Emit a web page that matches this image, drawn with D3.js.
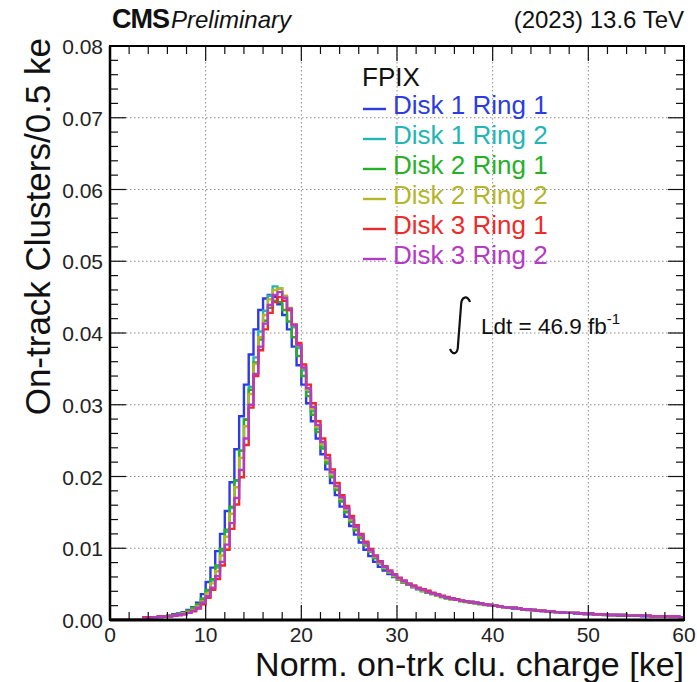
<!DOCTYPE html>
<html>
<head>
<meta charset="utf-8">
<script src="https://cdn.jsdelivr.net/npm/d3@7/dist/d3.min.js"></script>
<style>
body { margin: 0; background: #fff; }
svg { font-family: "Liberation Sans", Arial, sans-serif; }
</style>
</head>
<body>
<svg width="697" height="682"></svg>
<script>
// DATA -------------------------------------------------
var binWidth = 0.5;
var xTicks = [0, 10, 20, 30, 40, 50, 60];
var yTicks = [0, 0.01, 0.02, 0.03, 0.04, 0.05, 0.06, 0.07, 0.08];
var seriesNames = ["Disk 1 Ring 1", "Disk 1 Ring 2", "Disk 2 Ring 1", "Disk 2 Ring 2", "Disk 3 Ring 1", "Disk 3 Ring 2"];
var seriesColors = ["#2b3be6", "#22b5b5", "#27b027", "#b5b52a", "#ee2a2a", "#b53ac4"];

var disk1ring1 = [
  0,0,0,0,0,0,0,0.0003,0.0004,0.0004,
  0.0005,0.0005,0.0006,0.0008,0.0009,0.0011,0.0014,0.0018,0.0024,0.0036,
  0.0053,0.0073,0.0096,0.0120,0.0152,0.0192,0.0238,0.0284,0.0328,0.0370,
  0.0405,0.0432,0.0448,0.0453,0.0450,0.0440,0.0425,0.0405,0.0381,0.0355,
  0.0328,0.0302,0.0277,0.0253,0.0231,0.0210,0.0191,0.0174,0.0158,0.0144,
  0.0131,0.0119,0.0108,0.0098,0.0089,0.0081,0.0074,0.0069,0.0064,0.0060,
  0.0056,0.0052,0.0049,0.0046,0.0043,0.0041,0.0039,0.0037,0.0035,0.0033,
  0.0031,0.0030,0.0028,0.0027,0.0026,0.0025,0.0024,0.0023,0.0022,0.0021,
  0.0020,0.0019,0.0018,0.0017,0.0016,0.0016,0.0015,0.0014,0.0014,0.0013,
  0.0012,0.0012,0.0011,0.0011,0.0010,0.0010,0.0010,0.0009,0.0009,0.0008,
  0.0008,0.0008,0.0008,0.0007,0.0007,0.0007,0.0006,0.0006,0.0006,0.0006,
  0.0006,0.0005,0.0005,0.0005,0.0005,0.0005,0.0005,0.0004,0.0004,0.0004
];
var disk1ring2 = [
  0,0,0,0,0,0,0,0.0003,0.0003,0.0004,
  0.0004,0.0005,0.0005,0.0006,0.0008,0.0009,0.0012,0.0015,0.0020,0.0028,
  0.0040,0.0055,0.0073,0.0096,0.0123,0.0156,0.0194,0.0236,0.0280,0.0325,
  0.0366,0.0402,0.0431,0.0452,0.0465,0.0462,0.0450,0.0432,0.0408,0.0379,
  0.0348,0.0318,0.0291,0.0266,0.0242,0.0220,0.0200,0.0182,0.0166,0.0151,
  0.0138,0.0126,0.0115,0.0104,0.0095,0.0087,0.0079,0.0072,0.0066,0.0061,
  0.0057,0.0053,0.0049,0.0046,0.0043,0.0041,0.0038,0.0036,0.0034,0.0032,
  0.0031,0.0029,0.0028,0.0027,0.0026,0.0025,0.0024,0.0023,0.0022,0.0021,
  0.0020,0.0019,0.0018,0.0017,0.0017,0.0016,0.0015,0.0015,0.0014,0.0013,
  0.0013,0.0012,0.0012,0.0011,0.0011,0.0010,0.0010,0.0010,0.0009,0.0009,
  0.0009,0.0008,0.0008,0.0008,0.0007,0.0007,0.0007,0.0007,0.0006,0.0006,
  0.0006,0.0006,0.0006,0.0005,0.0005,0.0005,0.0005,0.0005,0.0005,0.0004
];
var disk2ring1 = [
  0,0,0,0,0,0,0,0.0003,0.0004,0.0004,
  0.0005,0.0005,0.0006,0.0007,0.0008,0.0010,0.0013,0.0017,0.0022,0.0030,
  0.0042,0.0057,0.0076,0.0099,0.0126,0.0158,0.0195,0.0236,0.0279,0.0321,
  0.0359,0.0391,0.0417,0.0435,0.0445,0.0443,0.0432,0.0416,0.0394,0.0368,
  0.0340,0.0312,0.0286,0.0262,0.0239,0.0218,0.0199,0.0181,0.0165,0.0150,
  0.0137,0.0125,0.0114,0.0104,0.0095,0.0086,0.0079,0.0072,0.0066,0.0061,
  0.0056,0.0052,0.0049,0.0046,0.0043,0.0040,0.0038,0.0036,0.0034,0.0032,
  0.0030,0.0029,0.0028,0.0026,0.0025,0.0024,0.0023,0.0022,0.0021,0.0021,
  0.0020,0.0019,0.0018,0.0017,0.0017,0.0016,0.0015,0.0015,0.0014,0.0013,
  0.0013,0.0012,0.0012,0.0011,0.0011,0.0010,0.0010,0.0010,0.0009,0.0009,
  0.0009,0.0008,0.0008,0.0008,0.0007,0.0007,0.0007,0.0007,0.0006,0.0006,
  0.0006,0.0006,0.0006,0.0005,0.0005,0.0005,0.0005,0.0005,0.0005,0.0004
];
var disk2ring2 = [
  0,0,0,0,0,0,0,0.0003,0.0003,0.0004,
  0.0004,0.0005,0.0005,0.0006,0.0007,0.0009,0.0011,0.0014,0.0019,0.0026,
  0.0037,0.0051,0.0068,0.0090,0.0116,0.0148,0.0185,0.0226,0.0270,0.0315,
  0.0357,0.0394,0.0425,0.0447,0.0460,0.0462,0.0452,0.0435,0.0411,0.0382,
  0.0351,0.0321,0.0294,0.0269,0.0245,0.0223,0.0203,0.0185,0.0169,0.0154,
  0.0140,0.0128,0.0117,0.0106,0.0096,0.0088,0.0080,0.0073,0.0067,0.0062,
  0.0057,0.0053,0.0050,0.0046,0.0044,0.0041,0.0039,0.0036,0.0034,0.0033,
  0.0031,0.0029,0.0028,0.0027,0.0026,0.0025,0.0024,0.0023,0.0022,0.0021,
  0.0020,0.0019,0.0018,0.0017,0.0017,0.0016,0.0015,0.0015,0.0014,0.0013,
  0.0013,0.0012,0.0012,0.0011,0.0011,0.0010,0.0010,0.0010,0.0009,0.0009,
  0.0009,0.0008,0.0008,0.0008,0.0007,0.0007,0.0007,0.0007,0.0006,0.0006,
  0.0006,0.0006,0.0006,0.0005,0.0005,0.0005,0.0005,0.0005,0.0005,0.0004
];
var disk3ring1 = [
  0,0,0,0,0,0,0,0.0004,0.0004,0.0004,
  0.0005,0.0005,0.0005,0.0006,0.0007,0.0008,0.0010,0.0012,0.0016,0.0022,
  0.0031,0.0042,0.0057,0.0076,0.0098,0.0127,0.0161,0.0199,0.0244,0.0296,
  0.0340,0.0376,0.0405,0.0428,0.0443,0.0450,0.0445,0.0432,0.0412,0.0386,
  0.0356,0.0328,0.0302,0.0277,0.0253,0.0230,0.0210,0.0191,0.0174,0.0159,
  0.0145,0.0132,0.0120,0.0109,0.0099,0.0090,0.0082,0.0075,0.0069,0.0064,
  0.0059,0.0055,0.0051,0.0048,0.0045,0.0043,0.0041,0.0038,0.0036,0.0034,
  0.0032,0.0030,0.0029,0.0027,0.0026,0.0025,0.0024,0.0023,0.0022,0.0021,
  0.0020,0.0019,0.0018,0.0017,0.0017,0.0016,0.0015,0.0015,0.0014,0.0013,
  0.0013,0.0012,0.0012,0.0011,0.0011,0.0010,0.0010,0.0010,0.0009,0.0009,
  0.0009,0.0008,0.0008,0.0008,0.0007,0.0007,0.0007,0.0007,0.0006,0.0006,
  0.0006,0.0006,0.0006,0.0005,0.0005,0.0005,0.0005,0.0005,0.0005,0.0004
];
var disk3ring2 = [
  0,0,0,0,0,0,0,0.0003,0.0003,0.0004,
  0.0004,0.0005,0.0005,0.0006,0.0007,0.0008,0.0010,0.0013,0.0017,0.0024,
  0.0033,0.0045,0.0061,0.0081,0.0105,0.0135,0.0170,0.0209,0.0253,0.0300,
  0.0343,0.0381,0.0413,0.0439,0.0453,0.0457,0.0449,0.0434,0.0411,0.0383,
  0.0352,0.0323,0.0297,0.0272,0.0248,0.0226,0.0206,0.0187,0.0171,0.0156,
  0.0142,0.0130,0.0118,0.0107,0.0097,0.0089,0.0081,0.0074,0.0068,0.0063,
  0.0058,0.0054,0.0050,0.0047,0.0044,0.0042,0.0039,0.0037,0.0035,0.0033,
  0.0031,0.0030,0.0028,0.0027,0.0026,0.0025,0.0024,0.0023,0.0022,0.0021,
  0.0020,0.0019,0.0018,0.0017,0.0017,0.0016,0.0015,0.0015,0.0014,0.0013,
  0.0013,0.0012,0.0012,0.0011,0.0011,0.0010,0.0010,0.0010,0.0009,0.0009,
  0.0009,0.0008,0.0008,0.0008,0.0007,0.0007,0.0007,0.0007,0.0006,0.0006,
  0.0006,0.0006,0.0006,0.0005,0.0005,0.0005,0.0005,0.0005,0.0005,0.0004
];
var allSeries = [disk1ring1, disk1ring2, disk2ring1, disk2ring2, disk3ring1, disk3ring2];

// SVG PARAMETERS -----------------------------------------
var svg = d3.select("svg");
var frameL = 110, frameR = 684, frameT = 46, frameB = 620;

var x = d3.scaleLinear().domain([0, 60]).range([frameL, frameR]);
var y = d3.scaleLinear().domain([0, 0.08]).range([frameB, frameT]);

// GRID
var grid = svg.append("g").attr("class", "grid");
grid.selectAll(".gx")
    .data(xTicks.slice(1, -1))
    .enter().append("line")
    .attr("x1", function(d) { return x(d); })
    .attr("x2", function(d) { return x(d); })
    .attr("y1", frameT).attr("y2", frameB)
    .attr("stroke", "#8a8a8a").attr("stroke-width", 1)
    .attr("stroke-dasharray", "1.5,2.5");
grid.selectAll(".gy")
    .data(yTicks.slice(1, -1))
    .enter().append("line")
    .attr("y1", function(d) { return y(d); })
    .attr("y2", function(d) { return y(d); })
    .attr("x1", frameL).attr("x2", frameR)
    .attr("stroke", "#8a8a8a").attr("stroke-width", 1)
    .attr("stroke-dasharray", "1.5,2.5");

// HISTOGRAMS
svg.append("clipPath").attr("id", "clip")
    .append("rect").attr("x", frameL).attr("y", frameT)
    .attr("width", frameR - frameL).attr("height", frameB - frameT);

var line = d3.line()
    .x(function(d) { return x(d[0]); })
    .y(function(d) { return y(d[1]); })
    .curve(d3.curveStepAfter);

allSeries.forEach(function(vals, k) {
    var pts = vals.map(function(v, i) { return [i * binWidth, v]; });
    pts.push([vals.length * binWidth, vals[vals.length - 1]]);
    svg.append("path")
        .attr("clip-path", "url(#clip)")
        .attr("d", line(pts))
        .attr("fill", "none")
        .attr("stroke", seriesColors[k])
        .attr("stroke-width", 2.4)
        .attr("stroke-linejoin", "miter");
});

// AXES (ticks on all four sides, like ROOT)
var axes = svg.append("g").attr("stroke", "#111");
var xMinor = d3.range(0, 61, 2);
var yMinor = d3.range(0, 41).map(function(i) { return i * 0.002; });

axes.selectAll(".xt").data(xMinor).enter().append("line")
    .attr("x1", function(d) { return x(d); }).attr("x2", function(d) { return x(d); })
    .attr("y1", frameB)
    .attr("y2", function(d) { return frameB - (d % 10 === 0 ? 15 : 8); })
    .attr("stroke-width", 1.2);
axes.selectAll(".xt2").data(xMinor).enter().append("line")
    .attr("x1", function(d) { return x(d); }).attr("x2", function(d) { return x(d); })
    .attr("y1", frameT)
    .attr("y2", function(d) { return frameT + (d % 10 === 0 ? 15 : 8); })
    .attr("stroke-width", 1.2);
axes.selectAll(".yt").data(yMinor).enter().append("line")
    .attr("y1", function(d) { return y(d); }).attr("y2", function(d) { return y(d); })
    .attr("x1", frameL)
    .attr("x2", function(d, i) { return frameL + (i % 5 === 0 ? 16 : 8); })
    .attr("stroke-width", 1.2);
axes.selectAll(".yt2").data(yMinor).enter().append("line")
    .attr("y1", function(d) { return y(d); }).attr("y2", function(d) { return y(d); })
    .attr("x1", frameR)
    .attr("x2", function(d, i) { return frameR - (i % 5 === 0 ? 16 : 8); })
    .attr("stroke-width", 1.2);

svg.append("rect")
    .attr("x", frameL).attr("y", frameT)
    .attr("width", frameR - frameL).attr("height", frameB - frameT)
    .attr("fill", "none").attr("stroke", "#000").attr("stroke-width", 2);
svg.append("line")
    .attr("x1", frameL).attr("x2", frameR).attr("y1", frameB).attr("y2", frameB)
    .attr("stroke", "#000").attr("stroke-width", 3);
svg.append("line")
    .attr("x1", frameL).attr("x2", frameL).attr("y1", frameT).attr("y2", frameB)
    .attr("stroke", "#000").attr("stroke-width", 2.5);

// TICK LABELS
svg.selectAll(".xl").data(xTicks).enter().append("text")
    .attr("x", function(d) { return x(d); })
    .attr("y", 642)
    .attr("text-anchor", "middle")
    .attr("font-size", 21).attr("fill", "#222")
    .text(function(d) { return d; });
svg.selectAll(".yl").data(yTicks).enter().append("text")
    .attr("x", 103)
    .attr("y", function(d) { return y(d) + 8; })
    .attr("text-anchor", "end")
    .attr("font-size", 21).attr("fill", "#222")
    .text(function(d) { return d3.format(".2f")(d); });

// AXIS TITLES
svg.append("text")
    .attr("x", frameR).attr("y", 676)
    .attr("text-anchor", "end")
    .attr("font-size", 34).attr("fill", "#111")
    .text("Norm. on-trk clu. charge [ke]");
svg.append("text")
    .attr("transform", "translate(50,38) rotate(-90)")
    .attr("text-anchor", "end")
    .attr("font-size", 35).attr("fill", "#111")
    .text("On-track Clusters/0.5 ke");

// HEADER
svg.append("text")
    .attr("x", 112).attr("y", 28)
    .attr("font-size", 27).attr("font-weight", "bold").attr("fill", "#111")
    .attr("letter-spacing", -1)
    .text("CMS");
svg.append("text")
    .attr("x", 171).attr("y", 28)
    .attr("font-size", 24).attr("font-style", "italic").attr("fill", "#111")
    .text("Preliminary");
svg.append("text")
    .attr("x", frameR).attr("y", 28)
    .attr("text-anchor", "end")
    .attr("font-size", 24).attr("fill", "#111")
    .text("(2023) 13.6 TeV");

// LEGEND
var legend = svg.append("g").attr("class", "legend");
legend.append("text")
    .attr("x", 362).attr("y", 86)
    .attr("font-size", 26).attr("fill", "#111")
    .text("FPIX");
var entry = legend.selectAll(".entry")
    .data(seriesNames)
    .enter().append("g")
    .attr("transform", function(d, i) { return "translate(0," + (114 + i * 30) + ")"; });
entry.append("line")
    .attr("x1", 363).attr("x2", 386).attr("y1", -5).attr("y2", -5)
    .attr("stroke", function(d, i) { return seriesColors[i]; })
    .attr("stroke-width", 2.4);
entry.append("text")
    .attr("x", 393).attr("y", 0)
    .attr("font-size", 26)
    .attr("fill", function(d, i) { return seriesColors[i]; })
    .text(function(d) { return d; });

// LUMI
svg.append("path")
    .attr("d", "M470 302 C468 295,461 296,461 306 L458 345 C458 354,453 356,450 349")
    .attr("fill", "none").attr("stroke", "#111").attr("stroke-width", 2.2);
var lumi = svg.append("text")
    .attr("x", 481).attr("y", 334)
    .attr("font-size", 22.5).attr("fill", "#111");
lumi.append("tspan").text("Ldt = 46.9 fb");
lumi.append("tspan").attr("dy", -10).attr("font-size", 15).text("-1");
</script>
</body>
</html>
